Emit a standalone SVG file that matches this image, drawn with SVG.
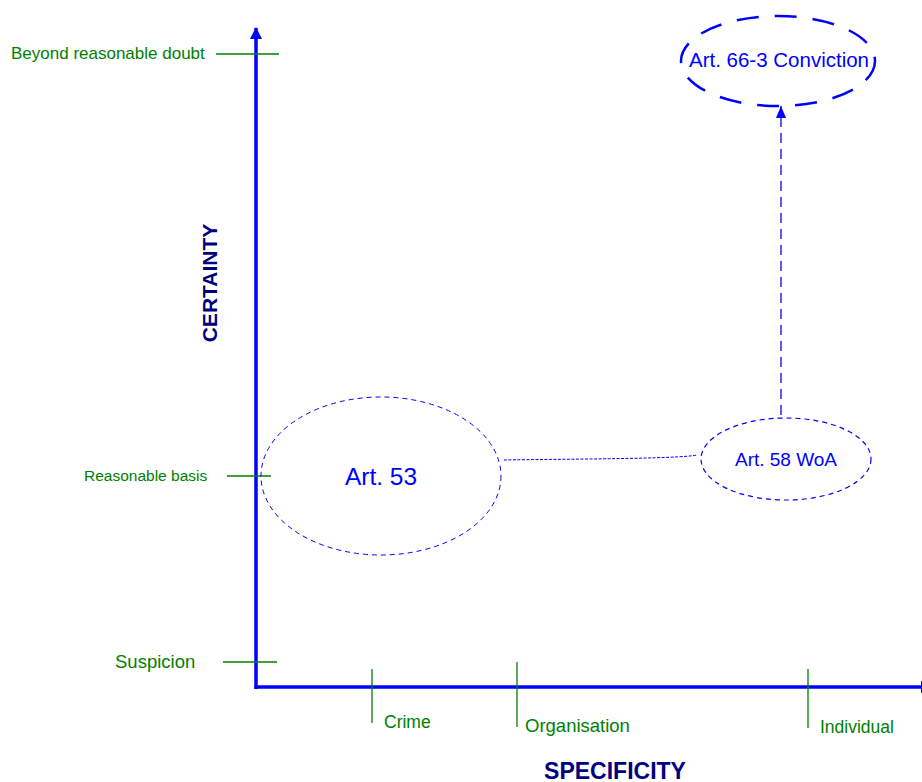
<svg xmlns="http://www.w3.org/2000/svg" width="922" height="782" viewBox="0 0 922 782">
<defs>
<style>
.ax{stroke:#0000FF;stroke-width:3.5;fill:none}
.tick{stroke:#008000;stroke-width:1.3;fill:none}
.lbl{font-family:"Liberation Sans",Arial,sans-serif;fill:#008000}
.title{font-family:"Liberation Sans",Arial,sans-serif;fill:#000080;font-weight:bold}
.node{fill:none;stroke:#0000FF}
.ntext{font-family:"Liberation Sans",Arial,sans-serif;fill:#0000FF;text-anchor:middle}
</style>
<marker id="arrAx" markerWidth="14" markerHeight="14" refX="11" refY="6" orient="auto" markerUnits="userSpaceOnUse">
<path d="M0,0 L12,6 L0,12 Z" fill="#0000FF"/>
</marker>
<marker id="arrCon" markerWidth="12" markerHeight="12" refX="12" refY="5" orient="auto" markerUnits="userSpaceOnUse">
<path d="M0,0 L12,5 L0,10 Z" fill="#0000FF"/>
</marker>
</defs>
<rect width="922" height="782" fill="#FFFFFF"/>
<g id="axes">
<line class="ax" x1="256" y1="689" x2="256" y2="28" marker-end="url(#arrAx)"/>
<line class="ax" x1="254.5" y1="687" x2="932" y2="687" marker-end="url(#arrAx)"/>
<text class="title" transform="translate(217,283) rotate(-90)" text-anchor="middle" font-size="21">CERTAINTY</text>
<text class="title" x="615" y="779" text-anchor="middle" font-size="23">SPECIFICITY</text>
</g>
<g id="ticks">
<line class="tick" x1="216" y1="54" x2="279" y2="54"/>
<text class="lbl" x="11" y="59" font-size="17">Beyond reasonable doubt</text>
<line class="tick" x1="227" y1="476" x2="271" y2="476"/>
<text class="lbl" x="84" y="481" font-size="15.5">Reasonable basis</text>
<line class="tick" x1="223" y1="662" x2="277" y2="662"/>
<text class="lbl" x="115" y="668" font-size="18.5">Suspicion</text>
<line class="tick" x1="372" y1="669" x2="372" y2="723"/>
<text class="lbl" x="384" y="728" font-size="17.5">Crime</text>
<line class="tick" x1="517" y1="662" x2="517" y2="727"/>
<text class="lbl" x="525" y="732" font-size="18.5">Organisation</text>
<line class="tick" x1="808" y1="669" x2="808" y2="728"/>
<text class="lbl" x="820" y="733" font-size="17.5">Individual</text>
</g>
<g id="connectors">
<path d="M504,460 C560,459 680,459 697,455" fill="none" stroke="#0000FF" stroke-width="1" stroke-dasharray="3,1.5"/>
<line x1="781" y1="415" x2="781" y2="106" stroke="#0000FF" stroke-width="1.3" stroke-dasharray="10,6" marker-end="url(#arrCon)"/>
</g>
<g id="art53">
<ellipse class="node" cx="381" cy="476" rx="120" ry="79" stroke-width="1" stroke-dasharray="5,4"/>
<text class="ntext" x="381" y="485" font-size="24.5">Art. 53</text>
</g>
<g id="art58">
<ellipse class="node" cx="786" cy="459" rx="85" ry="41" stroke-width="1.2" stroke-dasharray="5,4"/>
<text class="ntext" x="786" y="466" font-size="19">Art. 58 WoA</text>
</g>
<g id="art66">
<ellipse class="node" cx="778" cy="61" rx="97" ry="45" stroke-width="2.5" stroke-dasharray="22,16"/>
<text class="ntext" x="779" y="67" font-size="20.5">Art. 66-3 Conviction</text>
</g>
</svg>
